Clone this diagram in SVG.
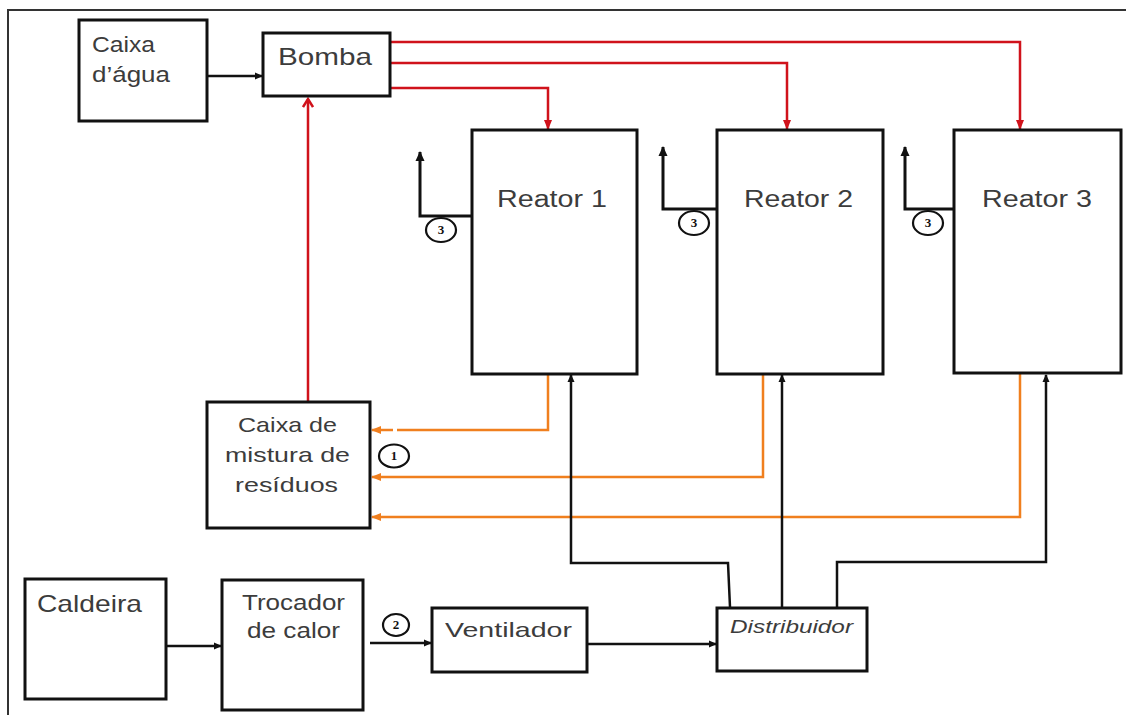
<svg xmlns="http://www.w3.org/2000/svg" width="1126" height="715" viewBox="0 0 1126 715">
<style>
.box{fill:#fff;stroke:#111;stroke-width:3}
.lbl{font-family:"Liberation Sans",Arial,sans-serif;fill:#3c3c3c}
.blk{fill:none;stroke:#111;stroke-width:2.5}
.vent{fill:none;stroke:#111;stroke-width:3}
.red{fill:none;stroke:#d0121b;stroke-width:2.5}
.org{fill:none;stroke:#f07f1e;stroke-width:2.5}
.num{fill:#fff;stroke:#111;stroke-width:2.2}
.numt{font-family:"Liberation Serif","Times New Roman",serif;font-size:13px;font-weight:bold;fill:#111;text-anchor:middle}
</style>
<defs>
<marker id="ab" markerWidth="8" markerHeight="8" refX="7" refY="4" orient="auto" markerUnits="userSpaceOnUse"><path d="M0,0.5 L8,4 L0,7.5 Z" fill="#111"/></marker>
<marker id="av" markerWidth="10" markerHeight="10" refX="9" refY="5" orient="auto" markerUnits="userSpaceOnUse"><path d="M0,0.5 L10,5 L0,9.5 Z" fill="#111"/></marker>
<marker id="ar" markerWidth="10" markerHeight="10" refX="9" refY="5" orient="auto" markerUnits="userSpaceOnUse"><path d="M0,1 L10,5 L0,9 Z" fill="#d0121b"/></marker>
<marker id="arc" markerWidth="12" markerHeight="12" refX="10" refY="6" orient="auto" markerUnits="userSpaceOnUse"><path d="M2,1 L10,6 L2,11" fill="none" stroke="#d0121b" stroke-width="2.5"/></marker>
<marker id="ao" markerWidth="10" markerHeight="10" refX="9" refY="5" orient="auto" markerUnits="userSpaceOnUse"><path d="M0,1 L10,5 L0,9 Z" fill="#f07f1e"/></marker>
</defs>
<rect width="1126" height="715" fill="#fff"/>
<path d="M8,715 L8,10 L1126,10" fill="none" stroke="#333" stroke-width="2"/>

<g id="connectors">
<path class="blk" d="M207,76 L262,76" marker-end="url(#ab)"/>
<path class="red" d="M390,42 L1020,42 L1020,129" marker-end="url(#ar)"/>
<path class="red" d="M390,63 L787,63 L787,129" marker-end="url(#ar)"/>
<path class="red" d="M390,88 L548,88 L548,129" marker-end="url(#ar)"/>
<path class="red" d="M308,402 L308,99" marker-end="url(#arc)"/>
<path class="vent" d="M472,216 L420,216 L420,152" marker-end="url(#av)"/>
<path class="vent" d="M717,209 L663,209 L663,147" marker-end="url(#av)"/>
<path class="vent" d="M954,209 L905,209 L905,147" marker-end="url(#av)"/>
<path class="org" d="M548,374 L548,430 L397,430"/>
<path class="org" d="M393,430 L372,430" marker-end="url(#ao)"/>
<path class="org" d="M763,374 L763,477 L372,477" marker-end="url(#ao)"/>
<path class="org" d="M1020,374 L1020,517 L372,517" marker-end="url(#ao)"/>
<path class="blk" d="M730,607 L728,563 L571,563 L571,375" marker-end="url(#ab)"/>
<path class="blk" d="M782,607 L782,375" marker-end="url(#ab)"/>
<path class="blk" d="M837,607 L837,562 L1046,562 L1046,375" marker-end="url(#ab)"/>
<path class="blk" d="M166,646 L221,646" marker-end="url(#ab)"/>
<path class="blk" d="M370,643 L431,643" marker-end="url(#ab)"/>
<path class="blk" d="M587,644 L716,644" marker-end="url(#ab)"/>
</g>

<g id="caixa-agua"><rect class="box" x="79" y="20" width="128" height="101"/>
<text class="lbl" x="92" y="52" font-size="22" textLength="63" lengthAdjust="spacingAndGlyphs">Caixa</text>
<text class="lbl" x="92" y="82" font-size="22" textLength="78" lengthAdjust="spacingAndGlyphs">d’água</text></g>

<g id="bomba"><rect class="box" x="263" y="33" width="127" height="63"/>
<text class="lbl" x="278" y="65" font-size="24" textLength="94" lengthAdjust="spacingAndGlyphs" fill="#333">Bomba</text></g>

<g id="reator1"><rect class="box" x="472" y="130" width="165" height="244"/>
<text class="lbl" x="497" y="207" font-size="23" textLength="110" lengthAdjust="spacingAndGlyphs">Reator 1</text></g>
<g id="reator2"><rect class="box" x="717" y="130" width="166" height="244"/>
<text class="lbl" x="744" y="207" font-size="23" textLength="109" lengthAdjust="spacingAndGlyphs">Reator 2</text></g>
<g id="reator3"><rect class="box" x="954" y="130" width="167" height="243"/>
<text class="lbl" x="982" y="207" font-size="23" textLength="110" lengthAdjust="spacingAndGlyphs">Reator 3</text></g>

<g id="num3a"><ellipse class="num" cx="441" cy="230" rx="15" ry="12"/><text class="numt" x="441" y="234">3</text></g>
<g id="num3b"><ellipse class="num" cx="694" cy="223" rx="15" ry="12"/><text class="numt" x="694" y="227">3</text></g>
<g id="num3c"><ellipse class="num" cx="928" cy="223" rx="15" ry="12"/><text class="numt" x="928" y="227">3</text></g>
<g id="num1"><ellipse class="num" cx="394" cy="456" rx="15" ry="11.5"/><text class="numt" x="394" y="460">1</text></g>
<g id="num2"><ellipse class="num" cx="396" cy="625" rx="13" ry="11"/><text class="numt" x="396" y="629">2</text></g>

<g id="caixa-mistura"><rect class="box" x="207" y="402" width="163" height="126"/>
<text class="lbl" x="238" y="432" font-size="21" textLength="99" lengthAdjust="spacingAndGlyphs">Caixa de</text>
<text class="lbl" x="225" y="462" font-size="21" textLength="125" lengthAdjust="spacingAndGlyphs">mistura de</text>
<text class="lbl" x="235" y="492" font-size="21" textLength="103" lengthAdjust="spacingAndGlyphs">resíduos</text></g>

<g id="caldeira"><rect class="box" x="25" y="579" width="141" height="120"/>
<text class="lbl" x="37" y="612" font-size="24" textLength="105" lengthAdjust="spacingAndGlyphs" fill="#2a2a2a">Caldeira</text></g>

<g id="trocador"><rect class="box" x="222" y="580" width="141" height="130"/>
<text class="lbl" x="242" y="610" font-size="22" textLength="103" lengthAdjust="spacingAndGlyphs">Trocador</text>
<text class="lbl" x="247" y="638" font-size="22" textLength="93" lengthAdjust="spacingAndGlyphs">de calor</text></g>

<g id="ventilador"><rect class="box" x="432" y="608" width="155" height="64"/>
<text class="lbl" x="445" y="637" font-size="21" textLength="127" lengthAdjust="spacingAndGlyphs">Ventilador</text></g>

<g id="distribuidor"><rect class="box" x="717" y="608" width="150" height="63"/>
<text class="lbl" x="730" y="633" font-size="18" font-style="italic" textLength="123" lengthAdjust="spacingAndGlyphs" fill="#333">Distribuidor</text></g>
</svg>
